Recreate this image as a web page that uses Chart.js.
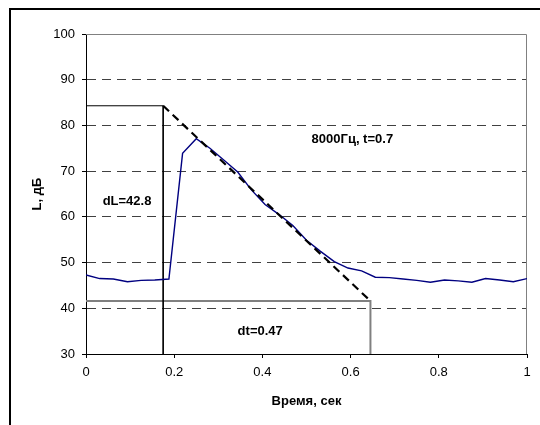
<!DOCTYPE html>
<html>
<head>
<meta charset="utf-8">
<script src="https://cdn.jsdelivr.net/npm/chart.js@4/dist/chart.umd.min.js"></script>
<style>
  html, body { margin: 0; padding: 0; background: #fff; overflow: hidden; }
  #frame { position: absolute; left: 9px; top: 8px; width: 600px; height: 500px; border: 2px solid #000; }
  #chart { position: absolute; left: 0; top: 0; }
</style>
</head>
<body>
<div id="frame"></div>
<canvas id="chart" width="540" height="425"></canvas>
<script>
// measured curve: time (s) and level (dB)
const times = [0, 0.031, 0.062, 0.094, 0.125, 0.156, 0.188, 0.219, 0.25, 0.281, 0.313,
    0.344, 0.375, 0.406, 0.438, 0.469, 0.5, 0.531, 0.563, 0.594, 0.625, 0.656,
    0.688, 0.719, 0.75, 0.781, 0.813, 0.844, 0.875, 0.906, 0.938, 0.969, 1];
const levels = [47.3, 46.5, 46.4, 45.8, 46.1, 46.2, 46.4, 73.9, 77.1, 75.0, 72.4,
    69.8, 65.9, 62.7, 60.5, 58.1, 54.9, 52.5, 50.2, 48.8, 48.2, 46.8,
    46.7, 46.4, 46.1, 45.7, 46.2, 46.0, 45.7, 46.5, 46.2, 45.8, 46.5];

// decay fit line
const fitTimes = [0.175, 0.645];
const fitLevels = [84.3, 41.6];

// dL bracket and dt bracket
const dlTimes = [0, 0.175, 0.175];
const dlLevels = [84.3, 84.3, 30];
const dtTimes = [0, 0.645, 0.645];
const dtLevels = [41.6, 41.6, 30];

const xTicks = [0, 0.2, 0.4, 0.6, 0.8, 1];
const yTicks = [30, 40, 50, 60, 70, 80, 90, 100];

const notes = [
    { text: '8000Гц, t=0.7', x: 0.604, y: 77.0 },
    { text: 'dL=42.8', x: 0.093, y: 63.3 },
    { text: 'dt=0.47', x: 0.395, y: 34.9 }
];

const pts = (xs, ys) => xs.map((x, i) => ({ x, y: ys[i] }));
const FONT = '"Liberation Sans", Arial, sans-serif';

// plot frame (gray top/right) + text notes
const extras = {
    id: 'extras',
    beforeDatasetsDraw(chart) {
        const { ctx, chartArea: a } = chart;
        ctx.save();
        ctx.strokeStyle = '#808080';
        ctx.lineWidth = 1;
        ctx.beginPath();
        ctx.moveTo(a.left, a.top + 0.5);
        ctx.lineTo(a.right - 0.5, a.top + 0.5);
        ctx.lineTo(a.right - 0.5, a.bottom);
        ctx.stroke();
        ctx.restore();
    },
    afterDatasetsDraw(chart) {
        const { ctx, scales } = chart;
        ctx.save();
        ctx.font = 'bold 13px ' + FONT;
        ctx.fillStyle = '#000';
        ctx.textAlign = 'center';
        ctx.textBaseline = 'middle';
        notes.forEach(n => ctx.fillText(n.text, scales.x.getPixelForValue(n.x), scales.y.getPixelForValue(n.y)));
        ctx.restore();
    }
};

new Chart(document.getElementById('chart'), {
    type: 'scatter',
    data: {
        datasets: [
            { data: pts(fitTimes, fitLevels), showLine: true, borderColor: '#000', borderWidth: 2.2, borderDash: [8, 5], pointRadius: 0 },
            { data: pts(times, levels), showLine: true, borderColor: '#000080', borderWidth: 1.4, pointRadius: 0 },
            { data: pts(dlTimes, dlLevels), showLine: true, borderColor: '#000', borderWidth: 1, pointRadius: 0 },
            { data: pts(dtTimes, dtLevels), showLine: true, borderColor: '#808080', borderWidth: 2, pointRadius: 0 }
        ]
    },
    options: {
        responsive: false,
        animation: false,
        layout: { padding: { left: 0, top: 34, right: 13, bottom: 0 } },
        plugins: { legend: { display: false }, tooltip: { enabled: false } },
        scales: {
            x: {
                type: 'linear', min: 0, max: 1,
                afterFit: s => { s.height = 71; },
                afterBuildTicks: s => { s.ticks = xTicks.map(v => ({ value: v })); },
                ticks: { color: '#000', padding: 7, font: { family: FONT, size: 13 }, maxRotation: 0, callback: v => String(v) },
                grid: { color: 'rgba(0,0,0,0)', tickColor: '#000', tickLength: 4, drawOnChartArea: false },
                border: { color: '#000', width: 1 },
                title: { display: true, text: 'Время, сек', color: '#000', font: { family: FONT, size: 13, weight: 'bold' }, padding: { top: 0, bottom: 16 } }
            },
            y: {
                type: 'linear', min: 30, max: 100,
                afterFit: s => { s.width = 86; },
                afterBuildTicks: s => { s.ticks = yTicks.map(v => ({ value: v })); },
                ticks: { color: '#000', padding: 7, font: { family: FONT, size: 13 }, callback: v => String(v) },
                grid: {
                    color: c => (c.tick && (c.tick.value === 30 || c.tick.value === 100)) ? 'rgba(0,0,0,0)' : '#404040',
                    tickColor: '#000', tickLength: 4, lineWidth: 1
                },
                border: { color: '#000', width: 1, dash: [9, 6] },
                title: { display: true, text: 'L, дБ', color: '#000', font: { family: FONT, size: 13, weight: 'bold' }, padding: { top: 30, bottom: 0 } }
            }
        }
    },
    plugins: [extras]
});
</script>
</body>
</html>
